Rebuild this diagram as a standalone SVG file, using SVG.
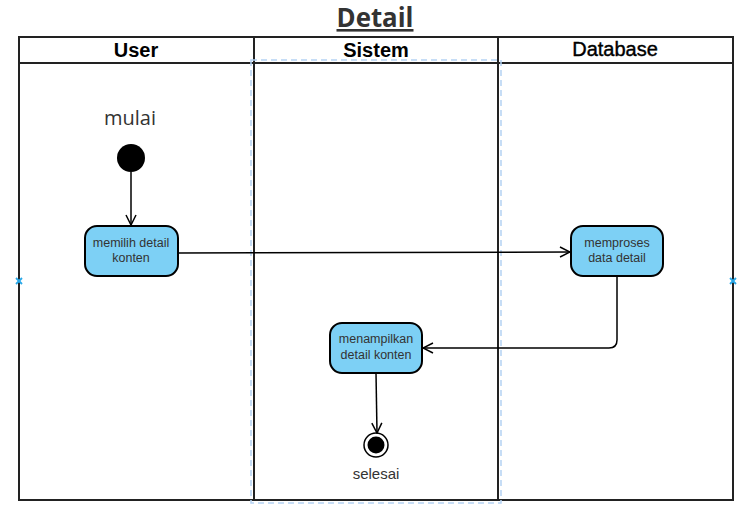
<svg xmlns="http://www.w3.org/2000/svg" width="751" height="510" viewBox="0 0 751 510">
  <defs>
    <style>
      .lane { fill: none; stroke: #222; stroke-width: 2; }
      .hdr { font-family: "Liberation Sans", Arial, sans-serif; font-size: 20px; fill: #000; text-anchor: middle; }
      .act rect { fill: #7dd0f5; stroke: #000; stroke-width: 2; }
      .act text { font-family: "Liberation Sans", Arial, sans-serif; font-size: 12.5px; fill: #333; text-anchor: middle; }
      .edge { fill: none; stroke: #000; stroke-width: 1.5; }
      .lbl { font-family: "Open Sans", "Liberation Sans", sans-serif; fill: #333; text-anchor: middle; }
      .sel { fill: none; stroke: #b4d2f4; stroke-width: 1.5; stroke-dasharray: 6 4; }
      .mark { stroke: #29a8e8; stroke-width: 1.8; }
    </style>
    <marker id="open" viewBox="0 0 12 12" refX="11" refY="6" markerWidth="12" markerHeight="12" markerUnits="userSpaceOnUse" orient="auto">
      <path d="M1,1 L11,6 L1,11" fill="none" stroke="#000" stroke-width="1.5"/>
    </marker>
  </defs>

  <!-- title -->
  <text x="375" y="27" font-family="Open Sans, Liberation Sans, sans-serif" font-size="26" font-weight="bold" fill="#333" text-anchor="middle" text-decoration="underline" textLength="77" lengthAdjust="spacingAndGlyphs">Detail</text>

  <!-- swimlanes -->
  <g id="swimlanes">
    <rect class="lane" x="19" y="37" width="714" height="463"/>
    <line class="lane" x1="19" y1="63" x2="733" y2="63"/>
    <line class="lane" x1="254" y1="37" x2="254" y2="500"/>
    <line class="lane" x1="498" y1="37" x2="498" y2="500"/>
    <text class="hdr" x="136" y="57" font-weight="bold">User</text>
    <text class="hdr" x="376" y="57" font-weight="bold">Sistem</text>
    <text class="hdr" x="615" y="56" stroke="#000" stroke-width="0.4">Database</text>
  </g>

  <!-- selection outline around the Sistem lane -->
  <rect class="sel" x="251" y="60" width="250" height="443"/>
  <g class="mark">
    <line x1="16" y1="278" x2="22" y2="284"/><line x1="22" y1="278" x2="16" y2="284"/>
    <line x1="730" y1="278" x2="736" y2="284"/><line x1="736" y1="278" x2="730" y2="284"/>
  </g>

  <!-- start -->
  <g id="start">
    <text class="lbl" x="130" y="125" font-size="20">mulai</text>
    <circle cx="131" cy="158" r="14" fill="#000"/>
  </g>

  <!-- actions -->
  <g id="memilih" class="act">
    <rect x="85" y="226" width="93" height="50" rx="12"/>
    <text x="131" y="247">memilih detail</text>
    <text x="131" y="262">konten</text>
  </g>
  <g id="memproses" class="act">
    <rect x="571" y="226" width="92" height="50" rx="12"/>
    <text x="617" y="247">memproses</text>
    <text x="617" y="262">data detail</text>
  </g>
  <g id="menampilkan" class="act">
    <rect x="330" y="323" width="92" height="50" rx="12"/>
    <text x="376" y="343">menampilkan</text>
    <text x="376" y="359">detail konten</text>
  </g>

  <!-- end -->
  <g id="end">
    <circle cx="376" cy="445" r="12" fill="#fff" stroke="#000" stroke-width="1.5"/>
    <circle cx="376" cy="445" r="8.5" fill="#000"/>
    <text x="376" y="479" font-family="Liberation Sans, Arial, sans-serif" font-size="15" fill="#333" text-anchor="middle">selesai</text>
  </g>

  <!-- connectors -->
  <g id="connectors">
    <path class="edge" d="M131,172 L131,225" marker-end="url(#open)"/>
    <path class="edge" d="M178,253 L570,252" marker-end="url(#open)"/>
    <path class="edge" d="M617,276 L617,340 Q617,348 609,348 L423,348" marker-end="url(#open)"/>
    <path class="edge" d="M376,373 L377,433" marker-end="url(#open)"/>
  </g>
</svg>
